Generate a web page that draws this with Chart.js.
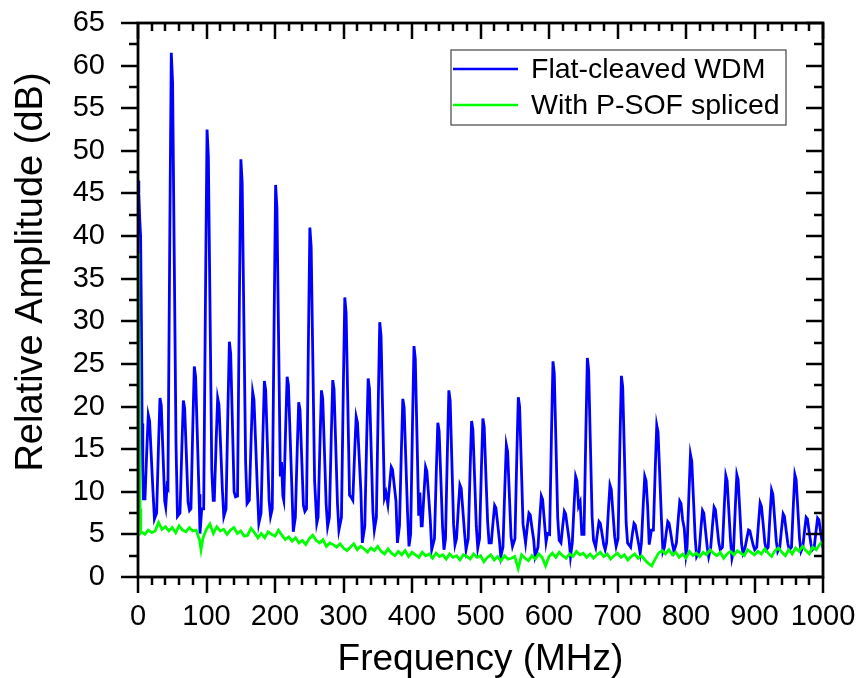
<!DOCTYPE html>
<html>
<head>
<meta charset="utf-8">
<script src="https://cdn.jsdelivr.net/npm/chart.js@4/dist/chart.umd.min.js"></script>
<style>
  html, body { margin: 0; padding: 0; background: #fff; }
  #chart { display: block; }
</style>
</head>
<body>
<canvas id="chart" width="862" height="678"></canvas>
<script>
// Tick labels
var xTicks = [0, 100, 200, 300, 400, 500, 600, 700, 800, 900, 1000];
var yTicks = [0, 5, 10, 15, 20, 25, 30, 35, 40, 45, 50, 55, 60, 65];

var seriesNames = ['Flat-cleaved WDM', 'With P-SOF spliced'];
var xTitle = 'Frequency (MHz)';
var yTitle = 'Relative Amplitude (dB)';

// [frequency MHz, amplitude dB]
var blueTrace = [
  [0, 46.5], [1.2, 45], [2.5, 42], [3.8, 40], [5, 30], [6, 18], [7, 12.5], [8, 9], [9.2, 11],
  [10.1, 9], [12.9, 15], [15, 19], [16.9, 18.3], [19.2, 14.5], [21.9, 10], [24, 6.8],
  [27.2, 7.5], [30, 15.6], [32.1, 21], [34, 20.1], [36.3, 14.9], [39, 8.9], [40.5, 8.2], [42.5, 10.7],
  [43.7, 10.5], [46.5, 41], [48.6, 61.5], [50.5, 58], [52.8, 38.5], [55.5, 15.6], [57.6, 7.1],
  [61.3, 7.5], [64.1, 15.4], [66.2, 20.7], [68.1, 19.8], [70.4, 14.8], [73.1, 8.8], [75.2, 7.8],
  [77.3, 8], [80.1, 18], [82.2, 24.7], [84.1, 23.5], [86.4, 17.2], [89.1, 9.7], [90.5, 5.1], [93, 8],
  [95.9, 8], [98.7, 34.7], [100.8, 52.5], [102.7, 49.4], [105, 32.5], [107.7, 12.5], [109.8, 9],
  [111.4, 9], [114.2, 16.2], [116.3, 21], [118.2, 20.2], [120.5, 15.6], [123.2, 10.2], [125.3, 7.1],
  [128.5, 8], [131.3, 19.8], [133.4, 27.6], [135.3, 26.2], [137.6, 18.8], [140.3, 10], [142.4, 9.4],
  [145.3, 9.5], [148.1, 33.2], [150.2, 49], [152.1, 46.2], [154.4, 31.2], [157.1, 13.5], [159.2, 8.6],
  [162.5, 9], [165.3, 16.6], [167.4, 21.7], [169.3, 20.8], [171.6, 16], [174.3, 10.3], [176.4, 6.3],
  [179.6, 7.5], [182.4, 16.8], [184.5, 23], [186.4, 21.9], [188.7, 16], [191.4, 9], [193.5, 7.1],
  [196, 8], [198.8, 30.8], [200.9, 46], [202.8, 43.3], [205.1, 28.9], [207.8, 11.8], [209.5, 13.5], [211.5, 9.5],
  [212.8, 9], [215.6, 17.7], [217.7, 23.5], [219.6, 22.5], [221.9, 17], [224.6, 10.5], [226.7, 5.3],
  [229.7, 7], [232.5, 15.1], [234.6, 20.5], [236.5, 19.6], [238.8, 14.4], [241.5, 8.4], [243.6, 7.7],
  [246, 8], [248.8, 27.8], [250.9, 41], [252.8, 38.7], [255.1, 26.2], [257.8, 11.3], [261, 6.3],
  [262.9, 7], [265.7, 15.9], [267.8, 21.9], [269.7, 20.9], [272, 15.2], [274.7, 8.5], [276.8, 5.9],
  [279.4, 7], [282.2, 16.7], [284.3, 23.1], [286.2, 22], [288.5, 15.9], [291.2, 8.6], [293.3, 5.5],
  [297, 7], [299.8, 22.5], [301.9, 32.8], [303.8, 31], [306.1, 21.2], [308.8, 9.6], [310.8, 9.4],
  [313.6, 9], [316.4, 14.9], [318.5, 18.8], [320.4, 18.1], [322.7, 14.4], [325.4, 10], [327.5, 4],
  [331.1, 6], [333.9, 16.4], [336, 23.3], [337.9, 22.1], [340.2, 15.5], [342.9, 7.7], [345, 5.5],
  [348, 7], [350.8, 20.7], [352.9, 29.9], [354.8, 28.3], [357.1, 19.6], [359.8, 9.3], [362, 9.9],
  [364.8, 8.5], [367.6, 11.1], [369.7, 12.9], [371.6, 12.6], [373.9, 10.9], [376.6, 8.9], [378.7, 4],
  [381.7, 6], [384.5, 14.9], [386.6, 20.9], [388.5, 19.9], [390.8, 14.2], [393.5, 7.5], [395.6, 3.6],
  [398, 5], [400.8, 18.3], [402.9, 27.1], [404.8, 25.6], [407.1, 17.2], [409.8, 7.2], [411.5, 9.9], [413.5, 6],
  [414.9, 6], [417.7, 10.1], [419.8, 12.9], [421.7, 12.4], [424, 9.8], [426.7, 6.7], [428.8, 3.2],
  [432.8, 4.5], [435.6, 12.7], [437.7, 18.1], [439.6, 17.1], [441.9, 12], [444.6, 5.9], [446.7, 3.2],
  [448.9, 4.5], [451.7, 14.9], [453.8, 21.9], [455.7, 20.7], [458, 14.1], [460.7, 6.2], [462.8, 3.8],
  [465, 4.5], [467.8, 8.3], [469.9, 10.8], [471.8, 10.4], [474.1, 8], [476.8, 5.1], [478.9, 3.2],
  [482.1, 4.5], [484.9, 12.8], [487, 18.3], [488.9, 17.3], [491.2, 12.1], [493.9, 5.9], [496, 3.4],
  [498.6, 4.5], [501.4, 13], [503.5, 18.6], [505.4, 17.6], [507.7, 12.3], [510.4, 6.5], [512.5, 4],
  [515.7, 4], [518.5, 6.6], [520.6, 8.4], [522.5, 8.1], [524.8, 6.4], [527.5, 4.4], [529.6, 2.4],
  [532.8, 3.5], [535.6, 10.7], [537.7, 15.5], [539.6, 14.7], [541.9, 10.1], [544.6, 4.7], [546.7, 3.6],
  [550.3, 4.5], [553.1, 14.5], [555.2, 21.1], [557.1, 20], [559.4, 13.6], [562.1, 6.2], [564, 5.1],
  [565.8, 4], [568.6, 6.1], [570.7, 7.5], [572.6, 7.3], [574.9, 5.9], [577.6, 4.4], [579.7, 2.4],
  [583.9, 3.5], [586.7, 7.1], [588.8, 9.5], [590.7, 9.1], [593, 6.8], [595.7, 4.1], [597.8, 5.1],
  [600.9, 5], [603.7, 17.2], [605.8, 25.3], [607.7, 23.9], [610, 16.2], [612.7, 7], [614.8, 4.3],
  [617.5, 4], [620.3, 6.2], [622.4, 7.7], [624.3, 7.4], [626.6, 6], [629.3, 4.4], [631.4, 2.4],
  [634, 4], [636.8, 8.7], [638.9, 11.8], [640.8, 11.3], [643.1, 8.3], [645.5, 8.8], [647.9, 5],
  [651.1, 5], [653.9, 17.4], [656, 25.7], [657.9, 24.3], [660.2, 16.4], [662.9, 7.1], [665, 4.3],
  [668.1, 3.5], [670.9, 5.3], [673, 6.5], [674.9, 6.3], [677.2, 5.2], [679.9, 3.8], [682, 3.2],
  [684.1, 4], [686.9, 8.1], [689, 10.8], [690.9, 10.3], [693.2, 7.7], [695.9, 4.7], [698, 3.6],
  [700.8, 4.5], [703.6, 16], [705.7, 23.6], [707.6, 22.3], [709.9, 15], [712.6, 6.4], [714.7, 4],
  [719.2, 3.5], [722, 5.2], [724.1, 6.3], [726, 6.1], [728.3, 5], [731, 3.8], [733.1, 2.8],
  [734.9, 4], [737.7, 8.7], [739.8, 11.8], [741.7, 11.3], [744, 8.3], [746.3, 3.8], [749.5, 5.5],
  [752.4, 5.5], [755.2, 12.9], [757.3, 17.8], [759.2, 17], [761.5, 12.3], [764.2, 6.7], [766.3, 3],
  [768.5, 3.5], [771.3, 5.3], [773.4, 6.5], [775.3, 6.3], [777.6, 5.2], [780.3, 3.8], [782.4, 3],
  [786, 4], [788.8, 6.9], [790.9, 8.9], [792.8, 8.6], [795.1, 6.7], [797.5, 5.7], [800, 2.6],
  [801.6, 3.5], [804.4, 10], [806.5, 14.4], [808.4, 13.6], [810.7, 9.5], [813.4, 4.6], [815.5, 2.4],
  [819.2, 3], [822, 5.9], [824.1, 7.8], [826, 7.5], [828.3, 5.6], [831, 3.5], [833.1, 2.4],
  [836.1, 3.5], [838.9, 6.3], [841, 8.2], [842.9, 7.9], [845.2, 6.1], [847.9, 4], [850, 3.2],
  [853.2, 3.5], [856, 8.5], [858.1, 11.9], [860, 11.3], [862.3, 8.1], [865, 4.3], [867.1, 2.2],
  [869.3, 3], [872.1, 8.4], [874.2, 12], [876.1, 11.4], [878.4, 8], [881.1, 3.9], [883.2, 2.8],
  [886.4, 3.5], [889.2, 4.7], [891.3, 5.5], [893.2, 5.4], [895.5, 4.6], [898.2, 3.7], [900.3, 3.2],
  [903.3, 3.5], [906.1, 6.6], [908.2, 8.7], [910.1, 8.3], [912.4, 6.4], [915.1, 4], [917.2, 3.2],
  [920, 3.5], [922.8, 7.5], [924.9, 10.2], [926.8, 9.7], [929.1, 7.2], [931.8, 4.2], [933.9, 3],
  [936.9, 3.5], [939.7, 5.8], [941.8, 7.4], [943.7, 7.1], [946, 5.6], [948.7, 3.9], [950.8, 3.2],
  [954, 3.5], [956.8, 8.6], [958.9, 12], [960.8, 11.4], [963.1, 8.2], [965.8, 4.4], [967.9, 3],
  [970.5, 3.5], [973.3, 5.6], [975.4, 7], [977.3, 6.8], [979.6, 5.4], [982.3, 3.9], [984.4, 3.2],
  [987.2, 3.5], [990, 5.5], [992.1, 6.9], [994, 6.7], [996.3, 5.4], [999, 4], [1000, 4.2]
];

var greenTrace = [
  [0, 38], [1, 33], [2, 20], [3, 8], [4, 5.2], [5, 5.3], [10, 5.0], [15, 5.5], [20, 5.2], [25, 5.4],
  [30, 6.4], [35, 5.6], [40, 5.9], [45, 5.4], [50, 5.8], [55, 5.2], [60, 6.0], [65, 5.5], [70, 5.3], [75, 5.8],
  [80, 5.4], [85, 5.5], [90, 4.3], [92, 3.2], [95, 4.6], [100, 5.6], [105, 6.2], [110, 5.1], [115, 5.9], [120, 5.4],
  [125, 5.6], [130, 5.0], [135, 5.5], [140, 5.8], [145, 5.1], [150, 5.4], [155, 4.8], [160, 4.9], [165, 5.7], [170, 5.2],
  [175, 4.6], [180, 5.1], [185, 4.6], [190, 5.3], [195, 5.0], [200, 4.8], [205, 5.5], [210, 4.9], [215, 4.4], [220, 4.7],
  [225, 4.2], [230, 4.6], [235, 4.0], [240, 4.3], [245, 3.8], [250, 4.5], [255, 4.9], [260, 4.3], [265, 4.0], [270, 4.4],
  [275, 3.6], [280, 4.0], [285, 3.8], [290, 3.5], [295, 3.9], [300, 3.4], [305, 3.1], [310, 3.5], [315, 3.9], [320, 3.2],
  [325, 3.6], [330, 3.3], [335, 2.9], [340, 3.4], [345, 3.1], [350, 3.6], [355, 3.0], [360, 2.7], [365, 3.3], [370, 2.8],
  [375, 2.5], [380, 3.0], [385, 2.6], [390, 3.1], [395, 2.4], [400, 2.9], [405, 2.6], [410, 2.3], [415, 2.9], [420, 2.5],
  [425, 2.7], [430, 2.2], [435, 2.8], [440, 2.4], [445, 2.6], [450, 2.1], [455, 2.7], [460, 2.3], [465, 2.5], [470, 2.0],
  [475, 2.6], [480, 2.4], [485, 2.1], [490, 2.7], [495, 2.3], [500, 2.5], [505, 1.8], [510, 2.3], [515, 2.6], [520, 2.0],
  [525, 2.4], [530, 1.9], [535, 2.5], [540, 2.1], [545, 2.2], [550, 2.4], [555, 1.0], [560, 2.6], [565, 2.2], [570, 1.9],
  [575, 2.5], [580, 2.1], [585, 2.7], [590, 2.3], [595, 1.3], [600, 2.4], [605, 2.8], [610, 2.3], [615, 2.9], [620, 2.5],
  [625, 2.2], [630, 2.7], [635, 2.4], [640, 3.0], [645, 2.6], [650, 2.8], [655, 2.3], [660, 2.7], [665, 2.2], [670, 2.6],
  [675, 2.9], [680, 2.4], [685, 2.7], [690, 2.1], [695, 2.5], [700, 2.8], [705, 2.3], [710, 2.6], [715, 2.0], [720, 2.4],
  [725, 2.7], [730, 2.2], [735, 2.5], [740, 2.0], [745, 1.6], [750, 1.3], [755, 2.1], [760, 2.8], [765, 3.1], [770, 2.7],
  [775, 3.2], [780, 2.6], [785, 2.9], [790, 2.3], [795, 2.7], [800, 2.2], [805, 3.0], [810, 2.5], [815, 2.8], [820, 2.4],
  [825, 2.9], [830, 2.6], [835, 3.2], [840, 2.8], [845, 2.5], [850, 2.9], [855, 2.2], [860, 2.7], [865, 3.0], [870, 2.6],
  [875, 3.1], [880, 2.8], [885, 2.5], [890, 3.2], [895, 2.9], [900, 2.6], [905, 3.0], [910, 2.7], [915, 3.3], [920, 2.8],
  [925, 2.4], [930, 3.1], [935, 3.4], [940, 2.9], [945, 2.5], [950, 3.2], [955, 2.7], [960, 3.4], [965, 3.0], [970, 3.6],
  [975, 3.1], [980, 2.7], [985, 3.5], [990, 3.2], [995, 3.8], [1000, 4.2]
];

var FONT = '"Liberation Sans", Arial, sans-serif';
var BLUE = '#0000ff';
var GREEN = '#00ff00';

function toPoints(trace) {
    return trace.map(function (p) {
        return { x: p[0], y: p[1] };
    });
}

// Origin-style frame: outward ticks on left/bottom, inward mirror ticks on top/right,
// the y title (sits a little above the axis centre in the original) and the boxed legend.
var frameTicks = {
    id: 'frameTicks',
    afterDatasetsDraw: function (chart) {
        var ctx = chart.ctx,
            a = chart.chartArea,
            xs = chart.scales.x,
            ys = chart.scales.y,
            v, px, py, len;

        ctx.save();
        ctx.strokeStyle = '#000';
        ctx.lineWidth = 2.5;
        ctx.beginPath();
        for (v = 0; v <= 1000; v += 20) {
            px = Math.round(xs.getPixelForValue(v));
            len = xTicks.indexOf(v) >= 0 ? 16 : 8;
            ctx.moveTo(px, a.bottom);
            ctx.lineTo(px, a.bottom + len);
            ctx.moveTo(px, a.top);
            ctx.lineTo(px, a.top + len);
        }
        for (v = 0; v <= 65; v += 2.5) {
            py = Math.round(ys.getPixelForValue(v));
            len = yTicks.indexOf(v) >= 0 ? 17 : 9;
            ctx.moveTo(a.left, py);
            ctx.lineTo(a.left - len, py);
            ctx.moveTo(a.right, py);
            ctx.lineTo(a.right - len, py);
        }
        ctx.stroke();

        ctx.lineWidth = 2.8;
        ctx.strokeRect(a.left, a.top, a.right - a.left, a.bottom - a.top);

        // y axis title
        ctx.save();
        ctx.translate(32, 272);
        ctx.rotate(-Math.PI / 2);
        ctx.fillStyle = '#000';
        ctx.font = '38px ' + FONT;
        ctx.textAlign = 'center';
        ctx.textBaseline = 'middle';
        ctx.fillText(yTitle, 0, 0);
        ctx.restore();

        // legend
        ctx.fillStyle = '#fff';
        ctx.fillRect(451, 50, 335, 75);
        ctx.lineWidth = 1.2;
        ctx.strokeStyle = '#444';
        ctx.strokeRect(451, 50, 335, 75);

        var rows = [
            { y: 69, color: BLUE, text: seriesNames[0] },
            { y: 105, color: GREEN, text: seriesNames[1] }
        ];
        ctx.font = '28.5px ' + FONT;
        ctx.textBaseline = 'middle';
        ctx.textAlign = 'left';
        rows.forEach(function (row) {
            ctx.strokeStyle = row.color;
            ctx.lineWidth = 2.5;
            ctx.beginPath();
            ctx.moveTo(453, row.y);
            ctx.lineTo(518, row.y);
            ctx.stroke();
            ctx.fillStyle = '#000';
            ctx.fillText(row.text, 531, row.y + 1);
        });
        ctx.restore();
    }
};

new Chart(document.getElementById('chart').getContext('2d'), {
    type: 'line',
    data: {
        datasets: [{
            label: seriesNames[0],
            data: toPoints(blueTrace),
            borderColor: BLUE,
            borderWidth: 2.8,
            pointRadius: 0,
            tension: 0,
            order: 2
        }, {
            label: seriesNames[1],
            data: toPoints(greenTrace),
            borderColor: GREEN,
            borderWidth: 2.8,
            pointRadius: 0,
            tension: 0,
            order: 1
        }]
    },
    options: {
        responsive: false,
        animation: false,
        devicePixelRatio: 1,
        layout: { padding: { left: 0, top: 23, right: 39, bottom: 0 } },
        plugins: {
            legend: { display: false },
            tooltip: { enabled: false }
        },
        scales: {
            x: {
                type: 'linear',
                min: 0,
                max: 1000,
                afterBuildTicks: function (scale) {
                    scale.ticks = xTicks.map(function (t) { return { value: t }; });
                },
                afterFit: function (scale) {
                    scale.height = 101;
                    scale.paddingLeft = 0;
                    scale.paddingRight = 0;
                },
                grid: { display: false, drawTicks: false, tickLength: 0 },
                border: { display: false },
                ticks: {
                    color: '#000',
                    font: { family: FONT, size: 29 },
                    padding: 23,
                    maxRotation: 0,
                    autoSkip: false,
                    callback: function (value) { return String(value); }
                },
                title: {
                    display: true,
                    text: xTitle,
                    color: '#000',
                    font: { family: FONT, size: 37, lineHeight: 1 },
                    padding: { top: 0, bottom: 0 }
                }
            },
            y: {
                type: 'linear',
                min: 0,
                max: 65,
                afterBuildTicks: function (scale) {
                    scale.ticks = yTicks.map(function (t) { return { value: t }; });
                },
                afterFit: function (scale) {
                    scale.width = 138;
                    scale.paddingTop = 0;
                    scale.paddingBottom = 0;
                },
                grid: { display: false, drawTicks: false, tickLength: 0 },
                border: { display: false },
                ticks: {
                    color: '#000',
                    font: { family: FONT, size: 29 },
                    padding: 33,
                    autoSkip: false,
                    callback: function (value) { return String(value); }
                }
            }
        }
    },
    plugins: [frameTicks]
});
</script>
</body>
</html>
